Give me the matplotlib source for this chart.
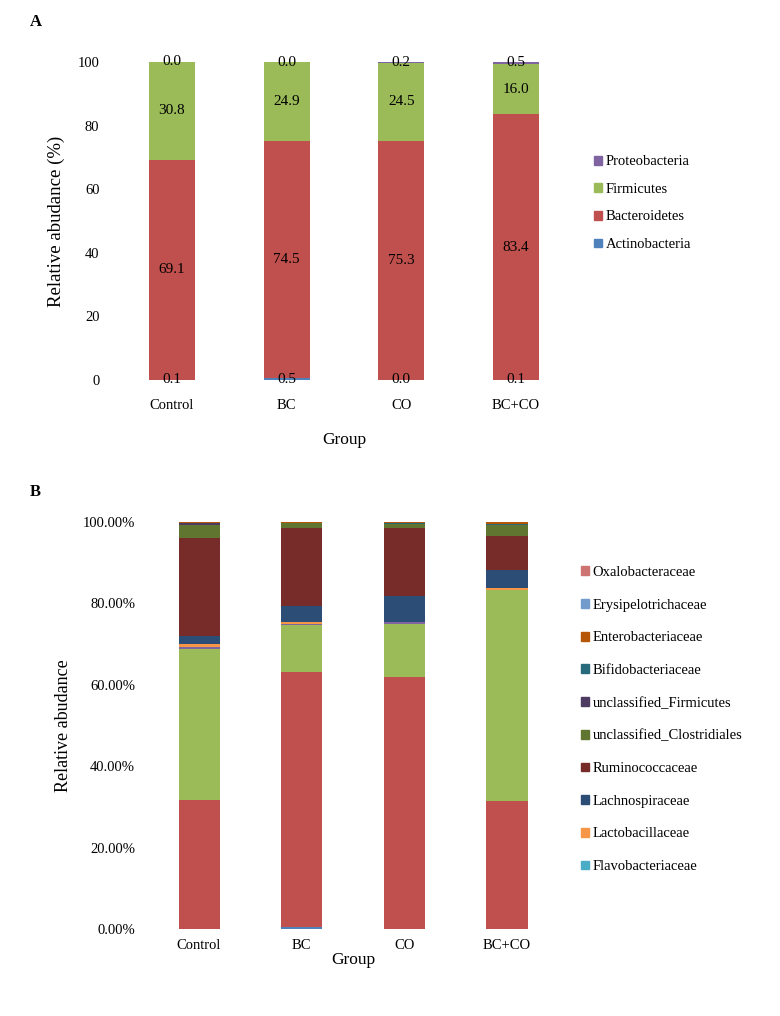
"""Relative abundance of gut microbiota per group: phylum level (A) and
family level (B), stacked bars in Excel's default palette."""

import matplotlib

matplotlib.use("Agg")
import matplotlib.pyplot as plt
import numpy as np
from matplotlib.patches import Patch
from matplotlib.ticker import PercentFormatter

plt.rcParams["font.family"] = ["Liberation Serif", "DejaVu Serif"]

GROUPS = ["Control", "BC", "CO", "BC+CO"]

# panel A -- phylum level (%), bottom to top
PHYLA = ["Actinobacteria", "Bacteroidetes", "Firmicutes", "Proteobacteria"]
actinobacteria = [0.1, 0.5, 0.0, 0.1]
bacteroidetes = [69.1, 74.5, 75.3, 83.4]
firmicutes = [30.8, 24.9, 24.5, 16.0]
proteobacteria = [0.0, 0.0, 0.2, 0.5]
PHYLUM_COLORS = ["#4F81BD", "#C0504D", "#9BBB59", "#8064A2"]

# panel B -- family level (%), bottom to top. The first four series are
# drawn but the original legend does not list them.
FAMILIES = ["family_1", "family_2", "family_3", "family_4",
            "Flavobacteriaceae", "Lactobacillaceae", "Lachnospiraceae",
            "Ruminococcaceae", "unclassified_Clostridiales",
            "unclassified_Firmicutes", "Bifidobacteriaceae",
            "Enterobacteriaceae", "Erysipelotrichaceae", "Oxalobacteraceae"]
family_1 = [0.0, 0.5, 0.0, 0.0]
family_2 = [31.7, 62.7, 61.8, 31.5]
family_3 = [37.0, 11.4, 13.1, 51.75]
family_4 = [0.6, 0.35, 0.5, 0.1]
flavobacteriaceae = [0.1, 0.05, 0.05, 0.05]
lactobacillaceae = [0.6, 0.4, 0.1, 0.3]
lachnospiraceae = [2.1, 3.9, 6.2, 4.4]
ruminococcaceae = [23.9, 19.3, 16.9, 8.4]
unclassified_clostridiales = [3.2, 1.1, 0.9, 2.8]
unclassified_firmicutes = [0.6, 0.1, 0.05, 0.05]
bifidobacteriaceae = [0.05, 0.05, 0.05, 0.05]
enterobacteriaceae = [0.05, 0.05, 0.3, 0.5]
erysipelotrichaceae = [0.05, 0.05, 0.05, 0.05]
oxalobacteraceae = [0.05, 0.05, 0.05, 0.05]
FAMILY_COLORS = ["#4F81BD", "#C0504D", "#9BBB59", "#8064A2", "#4BACC6",
                 "#F79646", "#2C4D75", "#772C2A", "#5F7530", "#4D3B62",
                 "#276A7C", "#B65708", "#729ACA", "#CD7371"]
N_HIDDEN = 4


def strip(ax):
    for sp in ax.spines.values():
        sp.set_visible(False)
    ax.tick_params(length=0)


def stacked(ax, series, colors, width=0.4):
    x = np.arange(len(GROUPS))
    bottom = np.zeros(len(GROUPS))
    bars = []
    for vals, c in zip(series, colors):
        vals = np.asarray(vals, dtype=float)
        bars.append(ax.bar(x, vals, width, bottom=bottom, color=c, linewidth=0))
        bottom += vals
    ax.set_xticks(x, GROUPS)
    ax.set_xlim(-0.5, len(GROUPS) - 0.5)
    ax.set_ylim(0, 100)
    return bars


fig = plt.figure(figsize=(7.8, 10.16), dpi=100)

# ---- panel A
ax_a = fig.add_axes([0.147, 0.626, 0.588, 0.313])
phylum_series = [actinobacteria, bacteroidetes, firmicutes, proteobacteria]
bars = stacked(ax_a, phylum_series, PHYLUM_COLORS)
for b in bars:
    ax_a.bar_label(b, fmt="%.1f", label_type="center", fontsize=11)
ax_a.set_yticks(range(0, 101, 20))
ax_a.tick_params(axis="y", pad=11, labelsize=10.5)
ax_a.tick_params(axis="x", pad=14, labelsize=10.5)
strip(ax_a)
ax_a.set_xlabel("Group", fontsize=12.5, labelpad=14)
ax_a.set_ylabel("Relative abudance (%)", fontsize=13.5, labelpad=9)
handles_a = [Patch(color=c, label=n) for n, c in zip(PHYLA, PHYLUM_COLORS)][::-1]
fig.legend(handles=handles_a, loc="center left", bbox_to_anchor=(0.762, 0.8),
           frameon=False, fontsize=10.5, handlelength=0.55, handleheight=0.55,
           handletextpad=0.25, labelspacing=1.0, borderaxespad=0, borderpad=0)

# ---- panel B
ax_b = fig.add_axes([0.1894, 0.0856, 0.5264, 0.4006])
family_series = [family_1, family_2, family_3, family_4, flavobacteriaceae,
                 lactobacillaceae, lachnospiraceae, ruminococcaceae,
                 unclassified_clostridiales, unclassified_firmicutes,
                 bifidobacteriaceae, enterobacteriaceae, erysipelotrichaceae,
                 oxalobacteraceae]
stacked(ax_b, family_series, FAMILY_COLORS)
ax_b.set_yticks(range(0, 101, 20))
ax_b.yaxis.set_major_formatter(PercentFormatter(100, decimals=2))
ax_b.tick_params(axis="y", pad=9, labelsize=10.5)
ax_b.tick_params(axis="x", pad=7, labelsize=10.5)
strip(ax_b)
ax_b.set_xlabel("Group", fontsize=12.5, labelpad=0)
ax_b.set_ylabel("Relative abudance", fontsize=13, labelpad=8)
handles_b = [Patch(color=c, label=n) for n, c in
             zip(FAMILIES[N_HIDDEN:], FAMILY_COLORS[N_HIDDEN:])][::-1]
fig.legend(handles=handles_b, loc="center left", bbox_to_anchor=(0.745, 0.2918),
           frameon=False, fontsize=10.5, handlelength=0.55, handleheight=0.55,
           handletextpad=0.25, labelspacing=1.35, borderaxespad=0, borderpad=0)

fig.text(0.038, 0.978, "A", fontsize=12, fontweight="bold", va="center")
fig.text(0.038, 0.516, "B", fontsize=12, fontweight="bold", va="center")

fig.savefig("out.png", dpi=100)
